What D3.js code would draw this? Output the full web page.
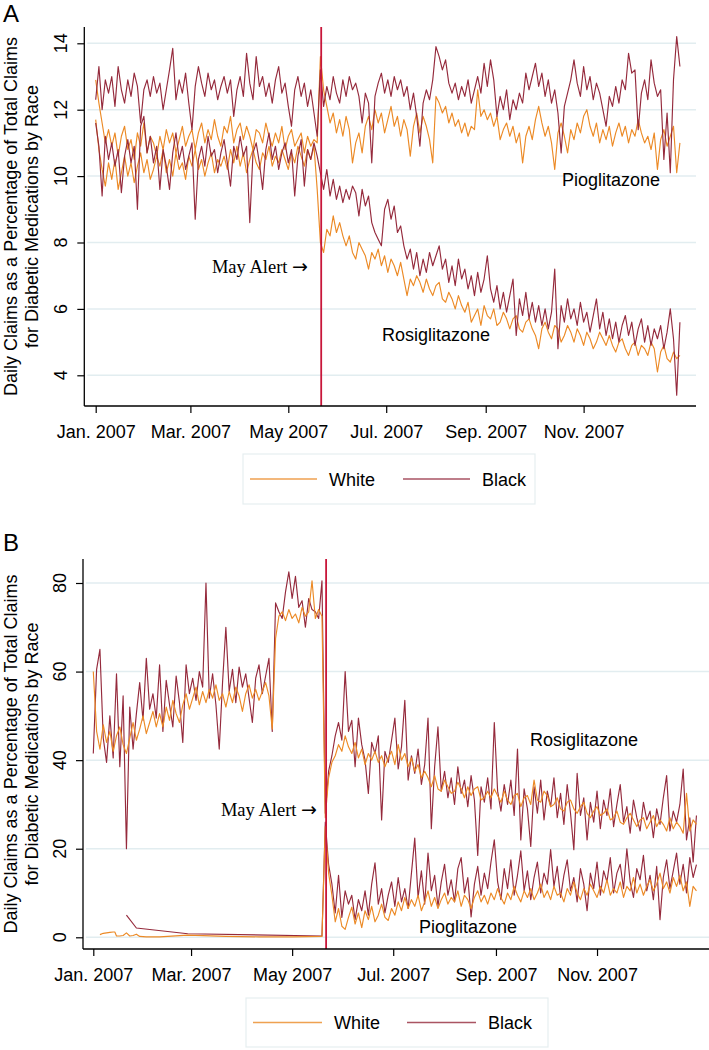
<!DOCTYPE html>
<html><head><meta charset="utf-8">
<script src="https://cdn.jsdelivr.net/npm/d3@7"></script>
<style>body{margin:0;background:#fff}svg{display:block}</style>
</head><body>
<svg id="c" width="709" height="1050"></svg>
<script>
// ---------- DATA ----------
const days = d3.range(0, 365, 2);            // day offsets from 1 Jan 2007 (every 2nd day)
const postDays = d3.range(140, 365, 2);      // from the May alert onward
const xTickDates = ["2007-01-01","2007-03-01","2007-05-01","2007-07-01","2007-09-01","2007-11-01"];
const xTickLabels = ["Jan. 2007","Mar. 2007","May 2007","Jul. 2007","Sep. 2007","Nov. 2007"];
const alertDay = 140.5;
const yTicksA = [4,6,8,10,12,14];
const yTicksB = [0,20,40,60,80];
const legendLabels = ["White","Black"];
const yTitle = ["Daily Claims as a Percentage of Total Claims","for Diabetic Medications by Race"];

// Panel A
const whitePioA = [12.9,12.2,11.6,11.0,11.4,10.9,11.3,10.6,11.2,11.5,10.8,11.1,10.5,11.3,10.9,11.6,10.7,11.2,11.0,10.6,
11.2,10.8,11.4,11.0,11.3,10.7,11.1,11.5,10.9,11.2,11.4,10.8,11.3,11.6,11.0,11.4,11.1,11.7,11.2,10.9,
11.5,11.3,11.8,11.0,11.4,11.6,11.1,11.5,11.2,10.8,11.4,11.3,11.0,11.6,11.2,10.9,11.3,11.0,11.5,10.8,
11.2,11.4,10.9,11.1,11.3,10.7,11.2,10.9,11.1,11.0,
13.6,12.6,12.1,11.6,11.9,11.3,11.7,11.2,11.8,11.4,
10.4,11.0,11.3,10.7,11.5,11.8,11.4,12.0,11.6,11.9,
11.3,11.7,12.1,11.5,11.8,11.2,11.7,11.4,10.6,11.5,
11.9,11.3,11.8,11.5,11.1,10.4,12.4,12.2,11.9,12.1,
11.6,11.9,11.5,11.7,11.3,11.6,11.2,11.5,11.4,12.6,
11.8,12.0,11.7,11.9,11.5,11.8,11.1,11.4,11.6,11.2,
11.5,11.0,11.3,10.4,11.2,11.5,11.1,11.7,12.1,11.6,
11.2,11.5,11.0,10.2,11.3,11.6,11.2,10.7,11.4,11.1,
11.6,11.3,11.8,12.0,11.5,11.2,11.6,11.0,11.4,11.1,
11.5,10.9,11.3,11.6,11.2,11.5,11.0,11.4,11.2,11.7,
11.3,11.0,11.2,10.8,11.3,10.2,11.1,11.4,10.9,11.2,
11.5,10.1,11.0];
const whiteRosA = [11.7,10.8,10.2,9.7,10.4,9.9,10.5,9.6,10.1,10.6,10.0,10.4,9.8,10.3,10.7,10.1,10.5,9.9,10.2,10.6,
10.3,10.8,10.1,10.5,10.0,10.7,10.2,10.4,9.9,10.6,10.3,10.8,10.2,10.5,10.0,10.4,10.7,10.1,10.5,10.3,
10.6,10.2,10.8,10.4,10.9,10.3,10.7,10.1,10.5,10.8,10.4,10.2,10.7,10.5,10.9,10.3,10.6,10.4,10.8,10.5,
10.2,10.7,10.4,10.9,10.6,10.3,10.8,10.5,10.9,9.6,
8.0,7.7,8.4,8.2,8.8,8.3,8.6,8.2,7.9,8.2,
7.7,7.5,8.0,7.8,7.6,7.2,7.7,7.5,7.8,7.3,
7.6,7.1,7.5,7.3,7.0,7.4,6.9,6.4,6.9,6.7,
7.0,6.8,6.5,6.9,6.6,6.4,6.7,6.8,6.3,6.2,
6.5,6.3,6.0,6.4,6.1,5.9,6.2,5.6,5.8,6.0,
5.5,6.1,5.8,5.7,6.0,5.5,5.6,5.9,5.7,5.4,
5.7,5.8,5.4,5.3,5.6,5.7,5.4,5.2,4.8,5.4,
5.6,5.3,5.1,5.5,5.4,5.0,5.2,5.5,5.3,5.0,
5.4,5.2,4.9,5.3,5.1,4.8,5.0,5.3,5.1,4.9,
5.2,4.9,4.7,5.0,5.1,4.8,4.6,4.9,5.0,4.6,
4.9,4.8,4.6,5.0,4.8,4.1,4.7,4.9,4.5,4.4,
4.7,4.5,4.6];
const blackPioA = [12.3,13.3,12.0,12.9,12.5,13.0,12.1,13.3,12.6,12.2,12.9,12.4,13.1,12.7,11.6,12.6,12.9,12.4,13.0,12.5,
12.8,12.0,12.6,13.2,13.85,12.3,12.9,12.5,13.1,12.2,11.4,12.7,13.3,12.8,12.4,13.1,12.6,12.9,12.3,12.7,
13.0,12.5,12.9,11.8,12.6,13.0,12.4,13.7,12.8,12.3,13.6,12.7,13.0,12.4,12.8,12.2,12.9,13.3,12.5,12.8,
12.1,11.5,12.6,13.0,12.4,12.8,12.1,12.6,11.9,11.2,
13.2,12.1,12.7,12.3,13.0,12.5,12.2,12.9,12.4,13.0,
12.6,12.8,12.4,11.6,12.5,12.2,10.4,12.4,12.8,13.1,
12.5,12.9,12.4,13.0,12.6,12.9,12.4,12.7,12.0,12.5,
11.8,10.9,12.2,12.6,12.3,12.9,13.9,13.6,13.2,13.5,
12.8,12.5,12.8,12.3,12.7,12.4,12.9,12.2,12.6,13.0,
12.5,13.4,12.7,13.5,12.9,11.8,12.4,12.0,12.6,11.7,
12.3,12.0,12.5,12.2,13.1,12.6,13.0,13.4,12.7,13.1,
12.4,12.9,12.2,12.6,11.9,10.7,12.1,12.5,12.9,13.5,
12.8,12.4,13.3,12.6,13.0,12.3,12.8,12.5,12.0,11.5,
12.4,12.1,12.7,12.2,12.9,12.6,13.7,13.1,13.2,11.4,
12.5,12.9,12.3,13.5,12.8,12.4,12.6,10.5,11.9,10.1,
12.9,14.2,13.3];
const blackRosA = [11.6,10.9,9.4,11.2,10.5,11.0,10.3,10.8,9.5,10.6,11.1,10.4,10.9,9.0,11.5,11.8,10.7,11.2,10.4,10.9,
9.6,10.8,10.3,9.6,10.7,11.3,10.5,10.9,10.2,10.6,11.0,8.7,10.5,10.9,10.3,11.2,10.6,10.8,10.1,10.7,
11.1,10.4,9.7,10.9,10.5,11.2,10.6,10.9,8.6,10.7,11.0,10.4,9.6,10.8,11.3,10.5,10.9,10.2,10.7,11.0,
10.4,10.8,9.4,10.6,11.1,9.7,10.8,10.5,11.0,10.6,
10.1,9.6,10.2,9.4,9.9,9.3,9.7,9.2,9.6,9.3,
9.7,9.5,8.8,9.6,9.1,9.4,8.6,8.3,8.1,7.9,
9.0,9.3,8.7,9.1,8.3,8.5,7.9,7.5,7.8,7.2,
7.7,7.0,7.5,7.1,7.7,7.3,7.6,7.9,7.2,7.5,
6.8,7.3,6.7,7.5,6.9,7.2,6.6,7.0,6.4,7.1,
6.5,6.9,7.6,6.6,6.2,6.7,6.0,6.5,5.9,6.4,
6.9,5.2,6.3,5.8,6.5,5.7,6.2,5.6,6.1,5.5,
6.0,5.4,5.9,7.2,4.8,6.1,5.6,6.3,5.7,6.0,
5.5,6.2,5.6,5.9,5.3,5.8,6.3,5.4,5.9,5.2,
5.7,5.1,5.6,5.0,5.5,5.8,5.2,5.6,4.9,5.4,
5.7,5.0,5.5,4.9,5.4,5.1,5.5,4.8,5.3,6.0,
5.1,3.4,5.6];

// Panel B
const whiteRosB = [60.0,46.5,42.5,48.0,44.0,46.5,42.0,45.5,47.5,43.5,41.5,45.0,48.5,44.5,47.0,50.0,46.0,48.5,51.0,47.5,
50.5,47.5,52.0,49.0,53.5,50.5,48.5,52.5,55.0,51.5,54.0,56.5,52.5,55.5,53.0,56.0,54.0,57.0,53.5,55.0,
52.0,55.5,53.0,56.5,54.5,51.0,55.0,57.0,54.0,56.0,53.5,55.5,57.5,54.5,47.0,67.5,72.5,73.5,71.5,74.0,
72.0,73.0,71.0,74.5,72.5,73.5,80.5,72.0,74.0,72.5,
27.0,36.0,39.5,41.0,43.5,42.0,45.5,43.0,41.5,44.0,
40.5,42.5,39.0,41.5,40.0,42.0,39.5,41.0,38.5,40.5,
42.0,39.0,43.5,40.0,41.5,38.5,40.5,37.5,39.0,36.0,
37.5,36.0,34.0,36.5,33.5,33.0,35.5,34.0,32.5,33.0,
35.0,33.5,31.5,34.0,32.0,33.5,34.0,31.0,31.5,33.0,
31.5,33.5,32.0,30.5,33.0,31.0,30.0,32.0,32.5,29.5,
31.5,32.0,30.0,35.5,31.0,30.5,33.0,32.0,29.5,30.0,
31.5,29.0,28.5,30.5,31.0,29.0,28.0,29.5,30.5,28.0,
27.0,28.5,29.5,27.5,28.0,29.0,26.5,27.0,28.5,26.0,
25.5,27.0,28.0,26.5,25.0,26.5,27.0,24.5,26.0,27.5,
25.0,26.5,25.5,24.0,27.0,24.5,26.0,25.0,23.5,32.5,
24.0,26.5,25.5];
const blackRosB = [41.5,60.5,65.0,45.0,39.5,50.0,40.5,59.5,38.5,54.5,20.0,52.0,42.5,50.5,57.5,49.0,63.0,51.5,55.0,49.5,
61.5,46.5,58.0,52.5,47.5,59.0,53.0,44.0,61.5,55.0,58.5,53.5,60.0,56.5,80.0,54.0,59.5,52.5,42.5,57.5,
70.0,55.5,60.5,53.0,61.0,56.5,59.5,54.0,48.5,58.5,61.5,55.0,59.0,63.0,46.5,75.5,73.5,72.0,78.0,82.5,
76.5,81.5,74.5,76.0,70.0,76.5,74.0,73.5,72.0,80.5,
28.0,37.5,41.0,45.5,48.5,44.5,60.0,46.5,49.0,38.5,
49.5,43.5,40.0,32.5,44.0,41.5,45.5,26.5,42.0,39.5,
44.5,49.5,38.0,43.0,53.5,35.5,41.0,37.0,42.5,34.5,
39.0,49.5,24.5,38.5,47.5,33.0,37.5,31.5,36.0,30.0,
38.5,32.5,35.5,29.5,36.5,31.0,18.5,34.0,30.5,36.0,
29.0,48.5,33.0,28.5,34.5,30.0,35.5,27.5,42.5,22.0,
33.5,29.0,20.5,34.0,28.0,35.5,26.5,33.0,29.5,36.0,
27.0,32.5,25.5,34.5,28.0,19.8,37.0,27.5,31.5,22.0,
30.5,26.0,33.0,24.5,31.0,27.5,33.5,25.0,30.0,34.5,
26.0,29.5,23.5,31.0,27.0,24.0,30.5,26.5,28.5,22.5,
29.0,25.5,31.5,36.5,24.0,28.5,26.0,30.0,38.0,22.0,
27.0,17.0,27.5];
const whitePioBPreDays = [4,6,8,10,12,13,14,16,18,20,22,24,26,28,32,40,57,80,100,120,138];
const whitePioBPre = [0.6,0.9,1.0,1.1,1.2,1.2,0.3,0.3,0.4,1.0,0.3,0.4,0.7,0.2,0.1,0.1,0.5,0.2,0.1,0.1,0.2];
const whitePioBPost = [25.0,14.5,9.5,3.5,6.5,2.5,1.8,4.5,6.8,3.0,
5.5,2.2,6.0,4.0,7.0,3.5,5.0,7.5,4.5,3.8,
6.5,5.0,8.0,6.0,9.0,6.5,8.5,7.0,9.5,6.0,
8.0,10.5,7.0,9.0,6.5,8.5,10.0,7.5,9.0,8.0,
10.5,7.0,9.5,8.5,6.5,9.0,10.5,8.0,9.5,7.5,
10.0,8.5,11.0,9.0,7.5,10.0,8.5,11.5,9.5,8.0,
10.5,9.0,11.0,8.5,10.0,12.0,9.0,10.5,8.5,11.5,
9.5,10.0,8.0,11.0,9.5,12.5,10.0,8.5,11.0,9.5,
12.0,10.5,9.0,11.5,10.0,13.0,9.5,11.0,10.0,12.5,
9.0,11.5,10.5,13.5,10.0,12.0,9.5,11.5,13.0,10.5,
12.0,14.5,11.0,12.5,10.0,13.5,11.5,14.0,10.5,12.5,
7.0,11.5,10.5];
const blackPioBPreDays = [20,26,57,138];
const blackPioBPre = [5.0,2.1,0.8,0.3];
const blackPioBPost = [26.0,16.5,12.0,5.5,14.0,4.5,10.5,7.5,9.5,4.0,
8.5,6.0,10.5,5.0,12.0,16.8,7.5,11.0,5.5,9.5,
12.5,7.0,13.5,8.0,11.0,6.5,14.5,22.4,9.0,15.0,
7.5,19.0,10.5,14.0,7.0,12.5,16.5,9.5,13.0,8.0,
15.5,18.0,10.0,13.5,4.6,12.0,16.0,9.5,14.5,11.0,
17.0,22.0,12.5,8.5,15.5,11.0,17.5,9.5,14.0,19.5,
10.5,15.0,8.5,13.5,17.0,10.0,14.5,12.0,19.8,11.5,
16.0,9.0,14.0,17.5,10.5,13.5,8.0,15.5,12.0,6.0,
14.5,11.0,17.0,9.5,15.0,12.5,18.0,10.0,14.5,16.5,
11.0,20.0,12.5,9.0,15.5,13.0,18.5,10.5,14.0,8.5,
16.0,4.0,13.5,17.5,11.0,15.0,19.0,12.0,16.5,10.0,
18.0,13.5,16.4];

// ---------- DRAW ----------
const COL_W = "#ec8a26", COL_B = "#952a3c", COL_ALERT = "#c8163a", GRID = "#e2edf0";
const FONT = "'Liberation Sans', Arial, Helvetica, sans-serif";
const SERIF = "'Liberation Serif', 'Times New Roman', serif";
const svg = d3.select("#c");
const base = new Date(2007,0,1);
const dt = d => d3.timeDay.offset(base, Math.floor(d));
const dtf = d => new Date(base.getTime() + d*86400000);

function panel(cfg){
  const g = svg.append("g");
  const x = d3.scaleTime().domain([dt(0), dt(364)]).range([cfg.x0, cfg.x1]);
  const y = d3.scaleLinear().domain(cfg.yDomain).range(cfg.yRange);
  g.selectAll(".grid").data(cfg.yTicks).enter().append("line")
    .attr("x1", cfg.left+3).attr("x2", cfg.right).attr("y1", d=>y(d)).attr("y2", d=>y(d))
    .attr("stroke", GRID).attr("stroke-width", 1.5);
  const line = d3.line().x(p=>x(dtf(p[0]))).y(p=>y(p[1]));
  cfg.series.forEach(s=>{
    g.append("path").datum(s.days.map((d,i)=>[d,s.values[i]]))
      .attr("d", line).attr("fill","none").attr("stroke", s.color)
      .attr("stroke-width", 1.15).attr("stroke-linejoin","round");
  });
  const ax = x(dtf(alertDay));
  g.append("line").attr("x1",ax).attr("x2",ax).attr("y1",cfg.top).attr("y2",cfg.bottom)
    .attr("stroke",COL_ALERT).attr("stroke-width",1.8);
  const xa = g.append("g").attr("transform",`translate(0,${cfg.bottom})`)
    .call(d3.axisBottom(x).tickValues(xTickDates.map(s=>{const [a,b,c]=s.split("-");return new Date(+a,+b-1,+c);}))
      .tickFormat((d,i)=>xTickLabels[i]).tickSize(7).tickPadding(12).tickSizeOuter(0));
  xa.select(".domain").remove();
  xa.selectAll("line").attr("stroke","#000").attr("stroke-width",1.2);
  xa.selectAll("text").attr("font-family",FONT).attr("font-size",18).attr("fill","#000");
  g.append("line").attr("x1",cfg.left).attr("x2",cfg.right).attr("y1",cfg.bottom).attr("y2",cfg.bottom)
    .attr("stroke","#000").attr("stroke-width",1.3);
  const ya = g.append("g").attr("transform",`translate(${cfg.left},0)`)
    .call(d3.axisLeft(y).tickValues(cfg.yTicks).tickSize(7).tickSizeOuter(0).tickFormat(d3.format("d")));
  ya.select(".domain").remove();
  ya.selectAll("line").attr("stroke","#000").attr("stroke-width",1.2);
  ya.selectAll("text").remove();
  g.append("line").attr("x1",cfg.left).attr("x2",cfg.left).attr("y1",cfg.top).attr("y2",cfg.bottom)
    .attr("stroke","#000").attr("stroke-width",1.3);
  g.selectAll(".ylab").data(cfg.yTicks).enter().append("text")
    .attr("transform", d=>`translate(${cfg.left-17},${y(d)}) rotate(-90)`)
    .attr("text-anchor","middle").attr("font-family",FONT).attr("font-size",18).text(d=>d);
  const cy = (cfg.top+cfg.bottom)/2;
  yTitle.forEach((t,i)=>{
    g.append("text").attr("transform",`translate(${i?38:16.5},${cy}) rotate(-90)`)
      .attr("text-anchor","middle").attr("font-family",FONT).attr("font-size",18).text(t);
  });
  g.append("text").attr("x",3).attr("y",cfg.letterY).attr("font-family",FONT).attr("font-size",24).text(cfg.letter);
  const at = g.append("text").attr("x",cfg.alertTxt[0]).attr("y",cfg.alertTxt[1]).attr("text-anchor","end")
    .attr("font-family",SERIF).attr("font-size",18.5);
  at.append("tspan").text("May Alert ");
  at.append("tspan").attr("font-family","'DejaVu Sans', sans-serif").attr("font-size",19).text("\u2192");
  cfg.labels.forEach(l=>{
    g.append("text").attr("x",l[1]).attr("y",l[2]).attr("font-family",FONT).attr("font-size",18).text(l[0]);
  });
  const L = cfg.legend;
  g.append("rect").attr("x",L.x).attr("y",L.y).attr("width",L.w).attr("height",L.h)
    .attr("fill","#fff").attr("stroke","#e6eef0").attr("stroke-width",1.2);
  [COL_W, COL_B].forEach((c,i)=>{
    const lx = L.x + 7 + i*L.step;
    g.append("line").attr("x1",lx).attr("x2",lx+L.len).attr("y1",L.y+L.h/2).attr("y2",L.y+L.h/2)
      .attr("stroke",c).attr("stroke-width",1.6).attr("opacity",0.8);
    g.append("text").attr("x",lx+L.len+12).attr("y",L.y+L.h/2+6.5)
      .attr("font-family",FONT).attr("font-size",18).text(legendLabels[i]);
  });
}

panel({
  left:84.3, right:696, top:27, bottom:406, x0:95.7, x1:95.7+364*1.605,
  yDomain:[4,14], yRange:[375.3,43.3], yTicks:yTicksA, letter:"A", letterY:22,
  alertTxt:[308,273], labels:[["Pioglitazone",562,186],["Rosiglitazone",382,341]],
  legend:{x:243,y:454,w:292,h:50,step:153,len:67},
  series:[
    {days, values:whiteRosA, color:COL_W},
    {days, values:whitePioA, color:COL_W},
    {days, values:blackRosA, color:COL_B},
    {days, values:blackPioA, color:COL_B}
  ]
});
panel({
  left:83, right:709, top:559, bottom:949, x0:93.3, x1:93.3+364*1.657,
  yDomain:[0,80], yRange:[937.3,583], yTicks:yTicksB, letter:"B", letterY:551,
  alertTxt:[317,816], labels:[["Rosiglitazone",530,745.5],["Pioglitazone",419,933]],
  legend:{x:246,y:998,w:302,h:49,step:154,len:69},
  series:[
    {days, values:blackRosB, color:COL_B},
    {days:blackPioBPreDays.concat(postDays), values:blackPioBPre.concat(blackPioBPost), color:COL_B},
    {days, values:whiteRosB, color:COL_W},
    {days:whitePioBPreDays.concat(postDays), values:whitePioBPre.concat(whitePioBPost), color:COL_W}
  ]
});
</script>
</body></html>
